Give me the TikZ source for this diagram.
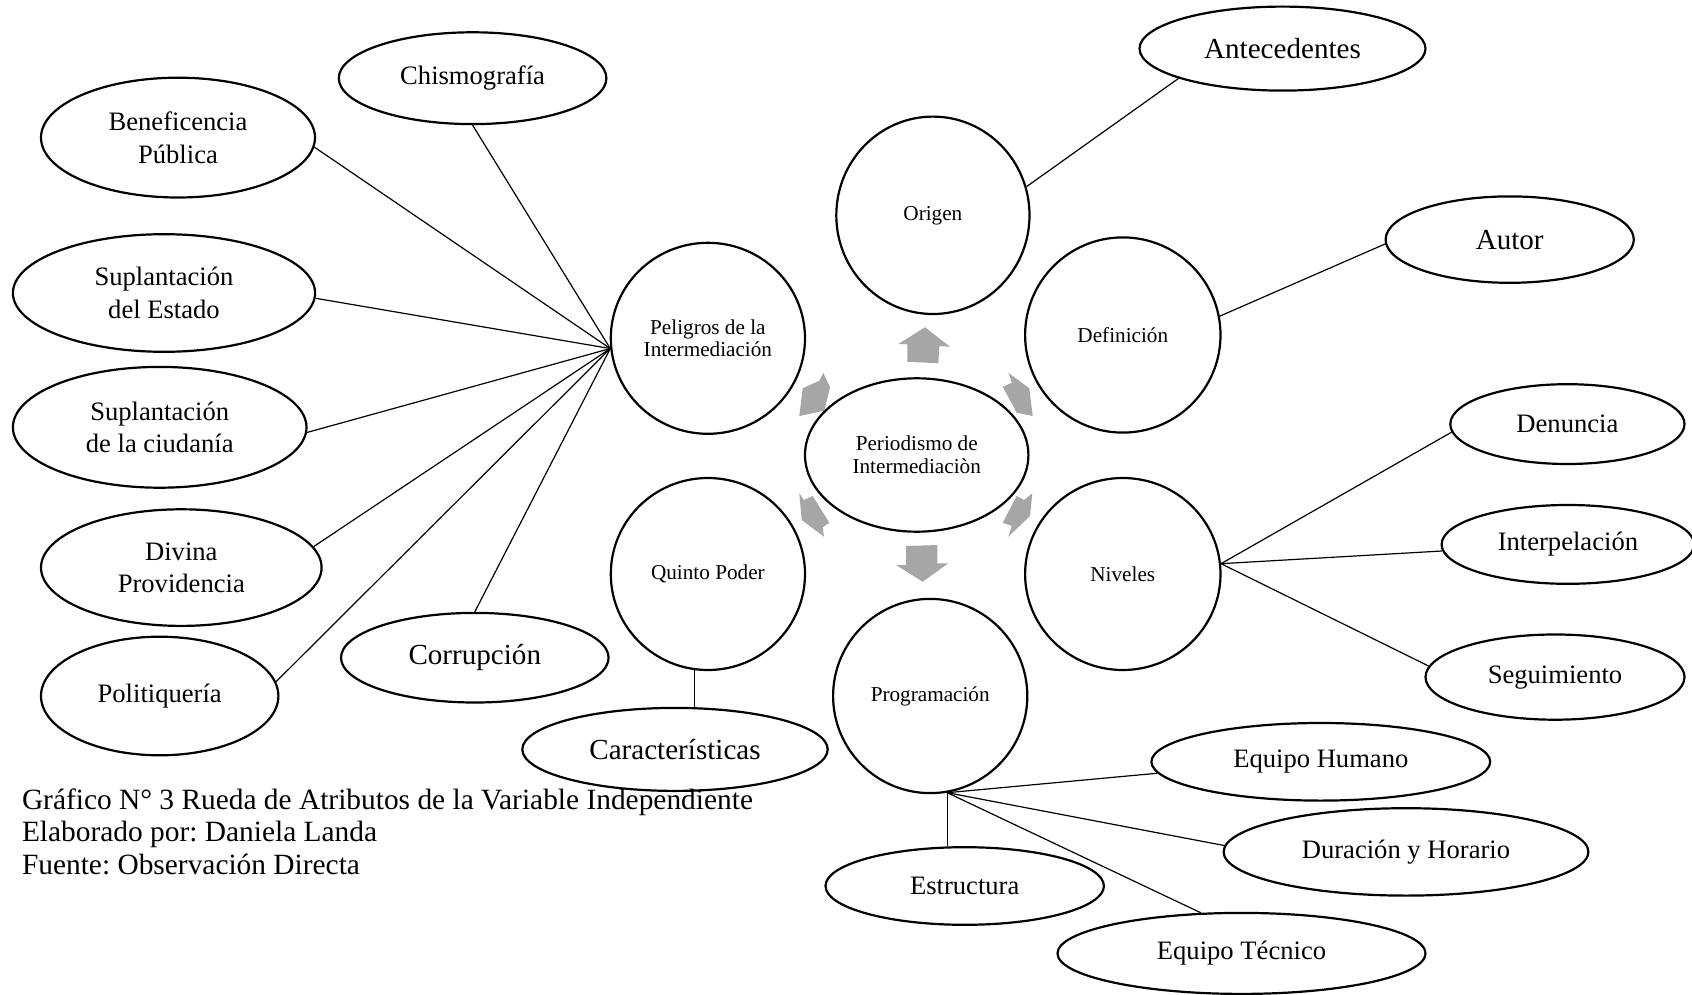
\documentclass[tikz,border=0pt]{standalone}
\usepackage{fontspec}
\setmainfont{Liberation Serif}
\usetikzlibrary{shapes.geometric}
\frenchspacing
\tikzset{
  ell/.style={ellipse, draw, line width=1.1pt, inner sep=0pt, align=center,
    font=\fontsize{13.3}{16.2}\selectfont},
  bigell/.style={ell, font=\fontsize{14.55}{17}\selectfont},
  circ/.style={ellipse, draw, line width=1.1pt, inner sep=0pt, align=center,
    font=\fontsize{10.6}{11.4}\selectfont},
  conn/.style={line width=0.6pt},
  garrow/.style={fill=black!35, draw=none},
  captxt/.style={anchor=base west, inner sep=0pt, font=\fontsize{14.7}{16.2}\selectfont}
}
\begin{document}
\begin{tikzpicture}[x=0.5pt,y=-0.5pt]
\useasboundingbox (0,0) rectangle (1692,995);

% left cluster
\node[ell, minimum width=133.8pt, minimum height=45.9pt] (chis) at (472.6,78.2) {Chismografía};
\node[ell, minimum width=137pt, minimum height=59.9pt] (ben) at (178,137.6) {Beneficencia\\Pública};
\node[ell, minimum width=151.1pt, minimum height=58.8pt] (supE) at (164,293) {Suplantación\\del Estado};
\node[ell, minimum width=146.8pt, minimum height=60.4pt] (supC) at (159.7,427.3) {Suplantación\\de la ciudanía};
\node[ell, minimum width=140.3pt, minimum height=58.3pt] (div) at (181.3,567.6) {Divina\\Providencia};
\node[ell, minimum width=118.7pt, minimum height=59.3pt] (pol) at (159.7,696) {Politiquería};
\node[bigell, minimum width=133.8pt, minimum height=44.8pt] (cor) at (474.8,657.7) {Corrupción};
\node[bigell, minimum width=152.7pt, minimum height=41.5pt] (car) at (675,749.4) {Características};

% circles
\node[circ, minimum width=97.1pt, minimum height=95.5pt] (pel) at (707.9,338.3) {Peligros de la\\Intermediación};
\node[circ, minimum width=97.1pt, minimum height=96pt] (qp) at (707.9,574) {Quinto Poder};
\node[circ, minimum width=96.6pt, minimum height=98.7pt] (orig) at (932.9,215.3) {Origen};
\node[circ, minimum width=97.7pt, minimum height=97.6pt] (def) at (1122.8,335) {Definición};
\node[circ, minimum width=111.7pt, minimum height=76.7pt] (per) at (916.7,455) {Periodismo de\\Intermediaciòn};
\node[circ, minimum width=97.7pt, minimum height=96pt] (niv) at (1122.8,574) {Niveles};
\node[circ, minimum width=97.1pt, minimum height=97.1pt] (prog) at (930.2,696) {Programación};

% right cluster
\node[bigell, minimum width=143pt, minimum height=42pt] (ante) at (1282.5,48.6) {Antecedentes};
\node[bigell, minimum width=124.1pt, minimum height=43.2pt] (aut) at (1509.7,239.6) {Autor};
\node[ell, minimum width=117.1pt, minimum height=39.9pt] (den) at (1567.4,424.1) {Denuncia};
\node[ell, minimum width=126.3pt, minimum height=39.4pt] (intp) at (1567.9,544.4) {Interpelación};
\node[ell, minimum width=129.5pt, minimum height=42.6pt] (seg) at (1555,677.1) {Seguimiento};
\node[ell, minimum width=169.4pt, minimum height=38.8pt] (eh) at (1320.8,761.8) {Equipo Humano};
\node[ell, minimum width=182.4pt, minimum height=43.7pt] (dur) at (1406,851.9) {Duración y Horario};
\node[ell, minimum width=139.2pt, minimum height=38.8pt] (estr) at (964.7,886) {Estructura};
\node[ell, minimum width=184pt, minimum height=40.5pt] (et) at (1241.5,953.4) {Equipo Técnico};

% hubs
\coordinate (hubL) at (pel.186);
\coordinate (hubN) at (niv.6);
\coordinate (hubP) at (prog.-80);

% connectors
\draw[conn] (hubL) -- (chis.south);
\draw[conn] (hubL) -- (ben.-4);
\draw[conn] (hubL) -- (supE.-2);
\draw[conn] (hubL) -- (supC.-2);
\draw[conn] (hubL) -- (div.9);
\draw[conn] (hubL) -- (cor.north);
\draw[conn] (hubL) -- (pol.7);
\draw[conn] (qp.-98) -- (qp.-98 |- car.north);
\draw[conn] (orig.17) -- (ante.196);
\draw[conn] (def.11) -- (aut.182);
\draw[conn] (hubN) -- (den.184);
\draw[conn] (hubN) -- (intp.183);
\draw[conn] (hubN) -- (seg.175);
\draw[conn] (hubP) -- (eh.184);
\draw[conn] (hubP) -- (dur.178);
\draw[conn] (hubP) -- (hubP |- estr.north);
\draw[conn] (hubP) -- (et.135);

% gray block arrows
\fill[garrow] (925,327.3) -- (950,346.7) -- (939.3,346) -- (938.3,363.3) -- (907.3,361.7) -- (907.3,344) -- (898.3,344) -- cycle;
\fill[garrow] (906,546) -- (937.3,545) -- (937.3,563.3) -- (948.3,563.3) -- (922.7,581.7) -- (896,565) -- (906,565) -- cycle;
\fill[garrow] (1008.3,372.7) -- (1029.3,388.3) -- (1032.7,416) -- (1016.7,412.7) -- (1002.7,386.7) -- (1012,382.7) -- cycle;
\fill[garrow] (823.3,372.7) -- (830,387.3) -- (824.3,410.7) -- (799.3,416) -- (802.7,388.3) -- (819.3,380.7) -- cycle;
\fill[garrow] (1016.7,496) -- (1024,500) -- (1032.3,493.3) -- (1030,516) -- (1008.3,536.7) -- (1011.7,526) -- (1002.7,522.7) -- cycle;
\fill[garrow] (799.3,493.3) -- (804,500) -- (812.7,496) -- (829.3,522.7) -- (822.7,527.3) -- (824,536.7) -- (801.7,520) -- cycle;

% caption
\node[captxt] (cap1) at (21.6,809) {Gráfico N° 3 Rueda de Atributos de la Variable Independiente};
\node[captxt] (cap2) at (21.6,841.5) {Elaborado por: Daniela Landa};
\node[captxt] (cap3) at (21.6,874) {Fuente: Observación Directa};
\end{tikzpicture}
\end{document}
